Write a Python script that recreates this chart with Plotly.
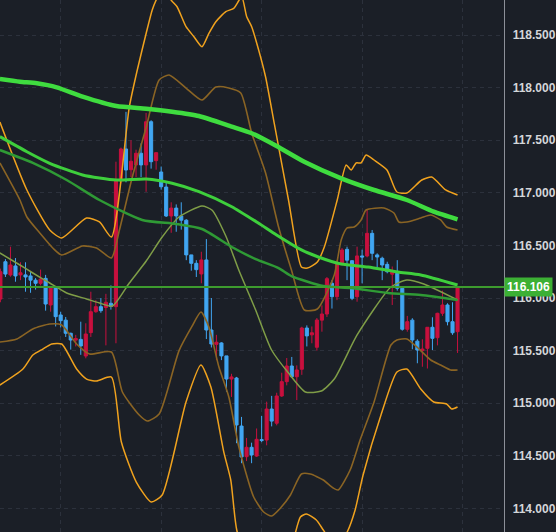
import plotly.graph_objects as go

# ---------------- candle data (index 0 .. 91) ----------------
opens = [115.99, 116.345, 116.219, 116.305, 116.22, 116.22, 116.21, 116.17, 116.14, 116.187,
         115.934, 116.108, 115.839, 115.79, 115.665, 115.60, 115.607, 115.449, 115.671, 115.87,
         115.918, 115.91, 115.95, 115.918, 117.112, 117.417, 117.22, 117.265, 117.376, 117.265,
         117.676, 117.306, 117.198, 117.055, 116.78, 116.855, 116.78, 116.74, 116.41, 116.33,
         116.229, 116.362, 115.696, 115.56, 115.573, 115.45, 115.23, 115.24, 114.783, 114.492,
         114.581, 114.498, 114.655, 114.65, 114.945, 114.81, 115.069, 115.205, 115.354, 115.252,
         115.323, 115.715, 115.65, 115.532, 115.79, 115.848, 116.14, 116.013, 116.33, 116.463,
         116.355, 116.013, 116.40, 116.40, 116.615, 116.41, 116.378, 116.32, 116.227, 116.235,
         116.093, 115.703, 115.79, 115.59, 115.50, 115.522, 115.722, 115.623, 115.855, 115.934,
         115.775, 115.68]
highs = [116.28, 116.37, 116.488, 116.38, 116.34, 116.34, 116.25, 116.19, 116.27, 116.22,
         116.11, 116.11, 115.87, 115.82, 115.67, 115.65, 115.775, 115.76, 116.06, 115.98,
         116.0, 116.04, 116.12, 117.296, 117.43, 117.77, 117.50, 117.41, 117.47, 117.76,
         117.69, 117.385, 117.25, 117.10, 116.91, 116.89, 116.91, 116.75, 116.41, 116.36,
         116.44, 116.56, 116.0, 115.65, 115.58, 115.45, 115.28, 115.25, 114.87, 114.67,
         114.625, 114.76, 114.88, 115.015, 115.07, 115.10, 115.29, 115.43, 115.44, 115.36,
         115.727, 115.74, 115.73, 115.81, 115.93, 116.20, 116.17, 116.36, 116.475, 116.488,
         116.36, 116.488, 116.46, 116.837, 116.647, 116.425, 116.393, 116.345, 116.30, 116.36,
         116.11, 115.83, 115.808, 115.608, 115.608, 115.722, 115.817, 115.86, 116.07, 115.95,
         115.96, 116.106]
lows = [115.96, 116.20, 116.203, 116.155, 116.17, 116.06, 116.05, 116.08, 116.12, 115.88,
        115.87, 115.73, 115.72, 115.63, 115.51, 115.54, 115.46, 115.427, 115.63, 115.86,
        115.86, 115.55, 115.89, 115.57, 117.09, 117.10, 117.15, 117.15, 117.15, 117.01,
        117.23, 117.22, 117.03, 116.77, 116.62, 116.63, 116.65, 116.36, 116.26, 116.20,
        116.14, 115.61, 115.53, 115.41, 115.41, 115.11, 115.06, 114.62, 114.43, 114.45,
        114.43, 114.49, 114.63, 114.60, 114.78, 114.79, 115.06, 115.17, 115.24, 115.03,
        115.27, 115.54, 115.57, 115.50, 115.68, 115.82, 115.90, 115.98, 116.31, 116.17,
        115.98, 115.965, 116.14, 116.387, 116.36, 116.27, 116.17, 116.235, 115.934, 116.07,
        115.69, 115.68, 115.513, 115.38, 115.347, 115.33, 115.506, 115.55, 115.83, 115.74,
        115.65, 115.478]
closes = [116.25, 116.228, 116.314, 116.21, 116.24, 116.20, 116.17, 116.14, 116.18, 115.943,
          116.108, 115.823, 115.785, 115.665, 115.601, 115.615, 115.544, 115.658, 115.87, 115.918,
          115.88, 115.96, 115.92, 117.122, 117.417, 117.217, 117.30, 117.376, 117.265, 117.676,
          117.296, 117.382, 117.058, 116.78, 116.855, 116.78, 116.74, 116.41, 116.33, 116.27,
          116.362, 115.696, 115.563, 115.58, 115.45, 115.23, 115.25, 114.793, 114.489, 114.581,
          114.508, 114.657, 114.645, 114.945, 114.83, 115.069, 115.205, 115.354, 115.252, 115.316,
          115.715, 115.64, 115.67, 115.791, 115.848, 116.184, 116.013, 116.33, 116.457, 116.36,
          115.997, 116.40, 116.39, 116.615, 116.425, 116.39, 116.314, 116.25, 116.25, 116.093,
          115.703, 115.775, 115.601, 115.506, 115.515, 115.722, 115.617, 115.855, 115.934, 115.775,
          115.67, 116.106]
bar_index = list(range(len(closes)))
last_price = 116.106

# ---------------- indicator lines (bar position, price) ----------------
ma_slow_x = [-0.1, 3.88, 7.25, 11.21, 16.36, 23.09, 29.03, 34.18, 39.52, 46.06, 50.02, 54.97,
             60.48, 67.84, 74.38, 80.91, 86.26, 91]
ma_slow_y = [118.082, 118.056, 118.041, 118.003, 117.914, 117.825, 117.800, 117.771, 117.730,
             117.629, 117.566, 117.445, 117.296, 117.138, 117.027, 116.932, 116.821, 116.748]

ma_mid_x = [-0.1, 5.27, 9.82, 16.36, 23.09, 29.03, 34.18, 39.52, 46.06, 51.41, 54.97, 59.92,
            63.29, 67.84, 73.19, 79.13, 83.68, 91]
ma_mid_y = [117.534, 117.391, 117.281, 117.170, 117.122, 117.131, 117.091, 117.011, 116.868,
            116.710, 116.599, 116.457, 116.390, 116.323, 116.295, 116.247, 116.219, 116.124]

ma_fast_x = [-0.1, 6.46, 13.19, 19.72, 28.24, 34.97, 40.12, 46.06, 50.81, 55.37, 57.94, 64.28,
             69.82, 77.15, 83.68, 91]
ma_fast_y = [117.407, 117.284, 117.122, 116.932, 116.742, 116.704, 116.656, 116.485, 116.370,
             116.285, 116.209, 116.114, 116.095, 116.048, 116.029, 115.981]

basis_x = [-0.1, 3.88, 6.46, 9.82, 13.19, 17.15, 19.72, 22.30, 25.66, 29.03, 32.20, 35.56,
           40.12, 42.10, 44.87, 47.45, 50.81, 53.98, 57.35, 60.71, 63.88, 66.46, 71.01, 77.74,
           80.91, 84.28, 91]
basis_y = [116.428, 116.314, 116.238, 116.143, 116.048, 115.991, 115.953, 115.924, 116.143,
           116.352, 116.580, 116.770, 116.875, 116.837, 116.590, 116.266, 115.886, 115.506,
           115.287, 115.107, 115.116, 115.230, 115.649, 116.105, 116.171, 116.133, 115.981]

up2_x = [-0.1, 5.27, 9.82, 12.2, 17.15, 19.72, 22.10, 25.66, 27.25, 29.03, 30.22, 31.01, 32.6,
         33.98, 35.17, 36.95, 38.53, 40.12, 41.50, 42.89, 44.87, 46.45, 48.04, 49.03, 50.02,
         51.41, 52.79, 54.57, 57.35, 59.92, 61.11, 63.09, 64.48, 67.05, 68.83, 69.82, 70.81,
         71.80, 72.79, 74.38, 76.95, 78.93, 80.91, 83.88, 85.86, 88.63, 91]
up2_y = [117.673, 117.027, 116.647, 116.571, 116.761, 116.723, 116.580, 117.816, 118.168,
         118.519, 118.738, 118.833, 118.976, 118.833, 118.769, 118.579, 118.484, 118.389,
         118.516, 118.627, 118.722, 118.754, 118.862, 118.674, 118.579, 118.358, 118.101,
         117.645, 116.932, 116.295, 116.285, 116.343, 116.485, 116.932, 117.265, 117.217,
         117.284, 117.284, 117.360, 117.312, 117.217, 117.008, 116.998, 117.122, 117.150,
         117.027, 116.979]

up1_x = [-0.1, 3.88, 5.27, 7.84, 10.42, 12.2, 16.36, 19.13, 22.10, 23.69, 26.26, 29.03, 31.60,
         33.58, 36.95, 40.12, 42.89, 45.47, 47.84, 50.02, 52.79, 55.37, 57.94, 60.51, 63.09,
         66.46, 67.84, 69.03, 70.42, 71.80, 72.79, 76.36, 78.34, 79.33, 80.91, 83.68, 85.66,
         87.64, 88.83, 91]
up1_y = [117.284, 116.932, 116.770, 116.618, 116.476, 116.409, 116.495, 116.476, 116.381,
         116.647, 117.150, 117.626, 118.073, 118.120, 117.996, 117.882, 118.006, 117.996,
         117.949, 117.569, 117.189, 116.675, 116.266, 115.886, 115.896, 116.219, 116.552,
         116.666, 116.675, 116.742, 116.837, 116.856, 116.808, 116.723, 116.723, 116.761,
         116.789, 116.742, 116.675, 116.647]

lo1_x = [-0.1, 3.29, 6.46, 9.82, 12.2, 15.17, 17.74, 22.10, 24.28, 27.64, 29.23, 31.60, 35.56,
         38.1, 39.92, 41.50, 43.5, 45.47, 47.45, 50.42, 52.40, 53.98, 55.76, 57.74, 59.92, 61.70,
         64.28, 66.26, 67.25, 69.62, 71.60, 74.38, 77.74, 78.93, 80.91, 82.89, 85.66, 87.64,
         89.62, 91]
lo1_y = [115.582, 115.611, 115.706, 115.753, 115.744, 115.563, 115.468, 115.487, 115.107,
         114.888, 114.831, 114.898, 115.500, 115.728, 115.867, 115.725, 115.344, 115.060,
         114.588, 114.109, 113.966, 113.928, 114.004, 114.128, 114.327, 114.327, 114.270,
         114.194, 114.175, 114.365, 114.650, 115.012, 115.554, 115.601, 115.611, 115.535,
         115.411, 115.363, 115.316, 115.316]

lo2_x = [-0.1, 4.48, 6.46, 8.44, 10.22, 12.2, 15.17, 17.15, 19.13, 22.10, 24.08, 27.05, 30.02,
         32.20, 36.95, 39.92, 41.90, 44.47, 45.86, 47.05, 50.42, 54.37, 57.35, 59.72, 60.91,
         62.89, 64.28, 66.85, 69.03, 70.61, 72.2, 75.76, 78.93, 80.91, 83.68, 86.26, 88.83,
         89.82, 91]
lo2_y = [115.173, 115.325, 115.458, 115.515, 115.563, 115.563, 115.325, 115.230, 115.211,
         115.249, 114.631, 114.251, 114.061, 114.128, 115.012, 115.363, 115.154, 114.536,
         114.270, 113.795, 113.320, 113.130, 113.510, 113.918, 113.947, 113.890, 113.795,
         113.624, 113.776, 113.985, 114.318, 114.888, 115.297, 115.325, 115.135, 115.012,
         114.993, 114.945, 114.964]

grid_bars = [12, 32, 52, 72, 92]
price_ticks = [114.0, 114.5, 115.0, 115.5, 116.0, 116.5, 117.0, 117.5, 118.0, 118.5]

BG = "#1b1f27"
RED = "#c8103e"
BLUE = "#41a6f2"

fig = go.Figure()
fig.add_trace(go.Candlestick(
    x=bar_index, open=opens, high=highs, low=lows, close=closes,
    increasing=dict(line=dict(color=RED, width=1), fillcolor=RED),
    decreasing=dict(line=dict(color=BLUE, width=1), fillcolor=BLUE),
    whiskerwidth=0, showlegend=False, hoverinfo="skip"))

def add_line(xs, ys, color, width):
    fig.add_trace(go.Scatter(x=xs, y=ys, mode="lines",
                             line=dict(color=color, width=width, shape="spline", smoothing=0.6),
                             showlegend=False, hoverinfo="skip"))

add_line(lo2_x, lo2_y, "#f0a21e", 1.5)
add_line(up2_x, up2_y, "#f0a21e", 1.5)
add_line(lo1_x, lo1_y, "#8a6424", 1.6)
add_line(up1_x, up1_y, "#8a6424", 1.6)
add_line(basis_x, basis_y, "#7f9d47", 1.5)
add_line(ma_fast_x, ma_fast_y, "#2f9a35", 2.5)
add_line(ma_mid_x, ma_mid_y, "#3ecf3c", 3)
add_line(ma_slow_x, ma_slow_y, "#3fdc3f", 4.5)

fig.add_shape(type="line", xref="x domain", yref="y", x0=0, x1=1, y0=last_price, y1=last_price,
              line=dict(color="#3d9b2e", width=2), layer="above")

fig.add_annotation(xref="paper", yref="y", x=1, y=last_price, xanchor="right", yanchor="middle",
                   text=f"{last_price:.3f}", showarrow=False, bgcolor="#3cb034",
                   width=47, height=18, borderpad=0,
                   font=dict(family="Liberation Sans", size=12, color="#ffffff", weight="bold"))

fig.update_layout(
    width=556, height=532, margin=dict(l=0, r=0, t=0, b=0),
    paper_bgcolor=BG, plot_bgcolor=BG, boxgap=0.12,
    xaxis=dict(domain=[0, 507 / 556], range=[-0.08, 100.3], rangeslider=dict(visible=False),
               tickvals=grid_bars, showticklabels=False, ticks="",
               showgrid=True, gridcolor="#2c313c", griddash="4px,4px", gridwidth=1,
               zeroline=False, showline=False, fixedrange=True),
    yaxis=dict(side="right", range=[113.776, 118.833], tickvals=price_ticks,
               tickformat=".3f", ticks="", ticklabelstandoff=5,
               showgrid=True, gridcolor="#2c313c", griddash="4px,4px", gridwidth=1,
               zeroline=False, showline=True, linecolor="#8d9099", linewidth=1,
               tickfont=dict(family="Liberation Sans", size=12, color="#d4d6da", weight="bold")),
    font=dict(family="Liberation Sans"),
)

fig.write_html("out.html")
